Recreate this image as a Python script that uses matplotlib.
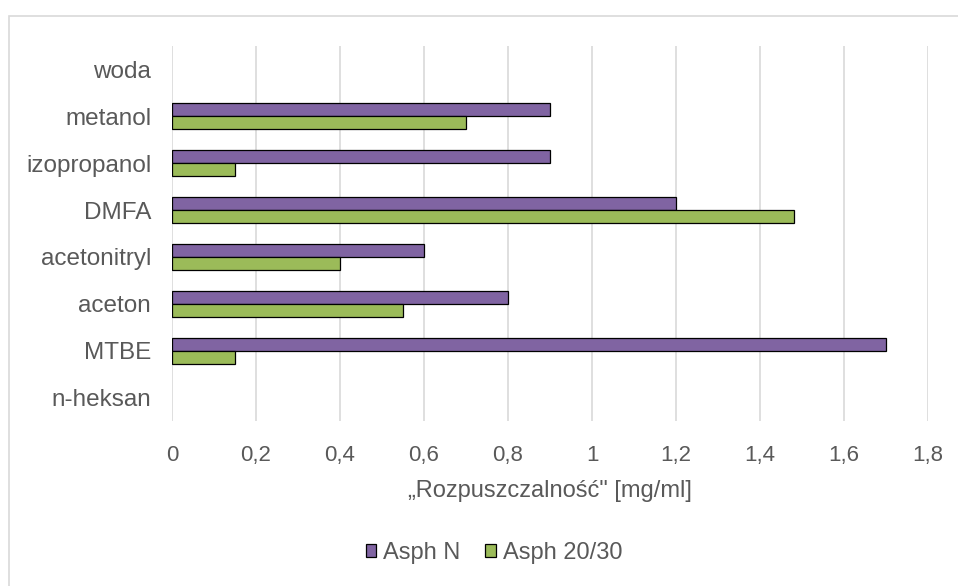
import matplotlib.pyplot as plt
import numpy as np
from matplotlib.patches import Rectangle

plt.rcParams['font.family'] = ['Liberation Sans', 'DejaVu Sans']

# data (bottom to top)
categories = ["n-heksan", "MTBE", "aceton", "acetonitryl", "DMFA", "izopropanol", "metanol", "woda"]
asph_n = [0, 1.7, 0.8, 0.6, 1.2, 0.9, 0.9, 0]
asph_2030 = [0, 0.15, 0.55, 0.4, 1.48, 0.15, 0.7, 0]
xticks = [0, 0.2, 0.4, 0.6, 0.8, 1.0, 1.2, 1.4, 1.6, 1.8]

purple = "#8064A2"
green = "#9BBB59"
gray = "#595959"

fig = plt.figure(figsize=(9.58, 5.86), dpi=100)
ax = fig.add_axes([172/958, 1 - 421/586, 756/958, 375/586])

y = np.arange(len(categories))
h = 0.28
# no outline on empty bars
lw_n = [0.9 if v else 0 for v in asph_n]
lw_g = [0.9 if v else 0 for v in asph_2030]
ax.barh(y + h/2, asph_n, height=h, color=purple, edgecolor="black", linewidth=lw_n, label="Asph N")
ax.barh(y - h/2, asph_2030, height=h, color=green, edgecolor="black", linewidth=lw_g, label="Asph 20/30")

ax.set_xlim(0, 1.8)
ax.set_ylim(-0.5, len(categories) - 0.5)
ax.set_xticks(xticks)
ax.set_xticklabels([("%g" % t).replace(".", ",") for t in xticks])
ax.set_yticks(y)
ax.set_yticklabels(categories)
ax.tick_params(axis="both", length=0, colors=gray)
ax.tick_params(axis="x", pad=17, labelsize=16)
ax.tick_params(axis="y", pad=15, labelsize=17.5)
ax.grid(axis="x", color="#d9d9d9", linewidth=1.2)
ax.set_axisbelow(True)
for s in ax.spines.values():
    s.set_visible(False)

ax.set_xlabel("\u201eRozpuszczalno\u015b\u0107\" [mg/ml]", color=gray, fontsize=17, labelpad=10)

leg = ax.legend(loc="center", bbox_to_anchor=(494/958, 1 - 553/586), bbox_transform=fig.transFigure,
                ncol=2, frameon=False, fontsize=17, labelcolor=gray,
                handlelength=0.45, handleheight=0.45, handletextpad=0.3, columnspacing=1.05,
                borderpad=0, borderaxespad=0)
for p in leg.get_patches():
    p.set_linewidth(0.9)

# chart area border
fig.patches.append(Rectangle((9/958, -0.05), 1.0, 1 - 16/586 + 0.05, transform=fig.transFigure,
                             fill=False, edgecolor="#d9d9d9", linewidth=1.2))

fig.savefig("out.png", dpi=100)
